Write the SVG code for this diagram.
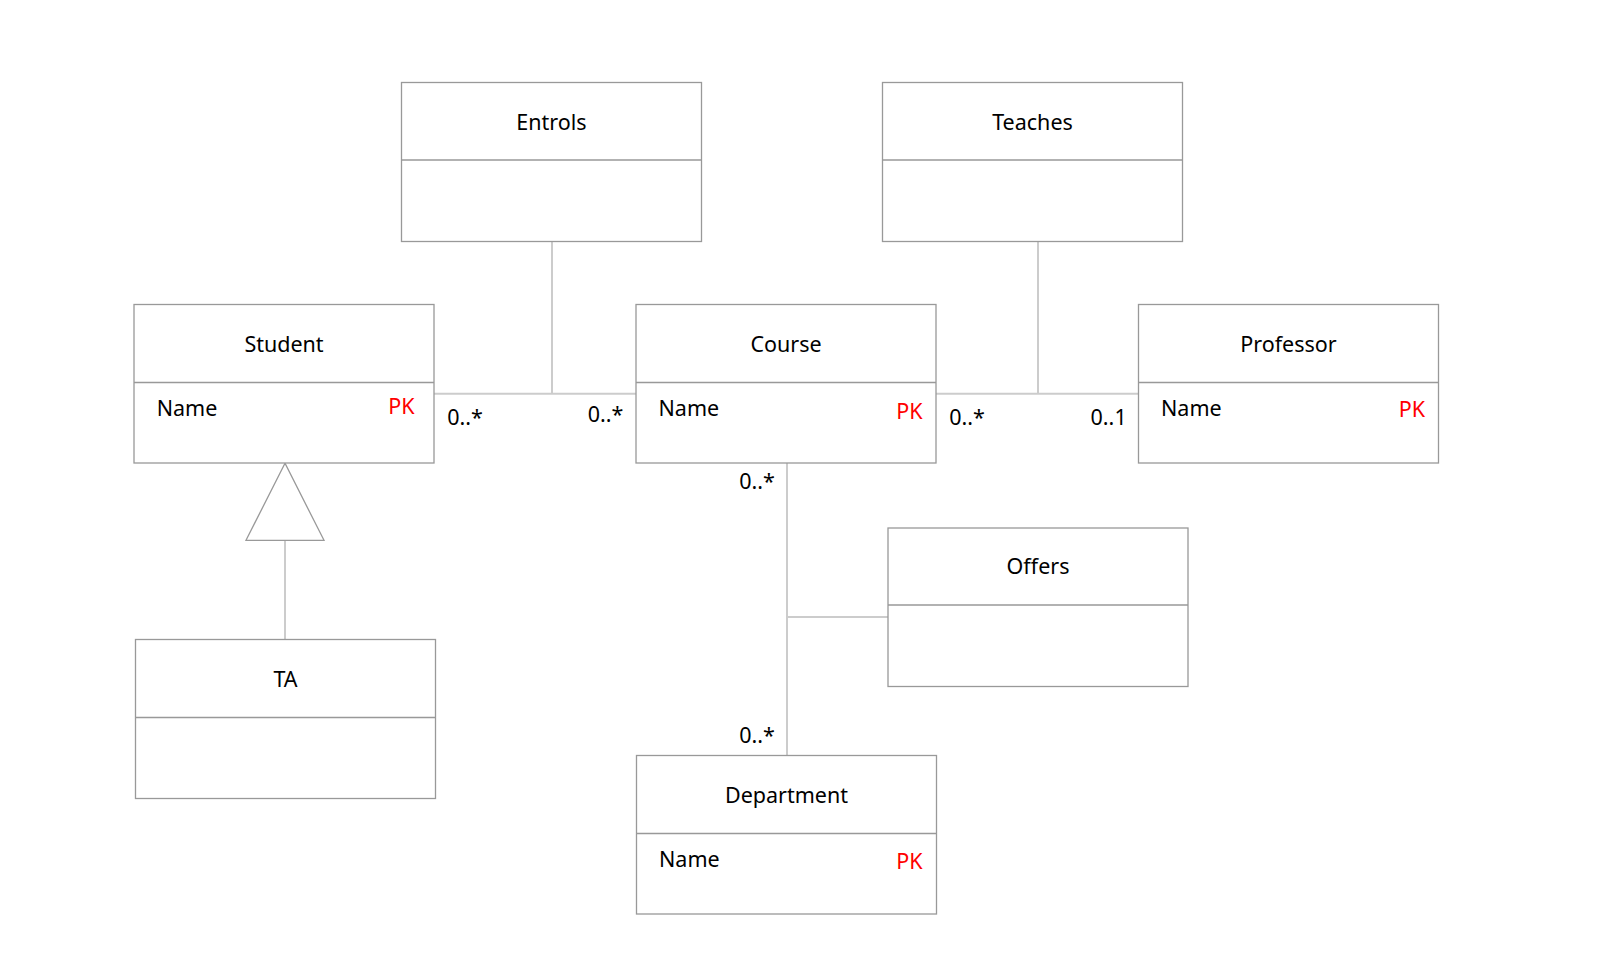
<svg xmlns="http://www.w3.org/2000/svg" width="1603" height="977" viewBox="0 0 1603 977">
<style>
.box{fill:#fff;stroke:#999;stroke-width:1.3}
.div{stroke:#999;stroke-width:1.3}
.con{stroke:#ccc;stroke-width:2;fill:none}
text{font-family:"Noto Sans","DejaVu Sans",sans-serif;font-size:21.5px;fill:#000}
.t{text-anchor:middle}
.pk{fill:#f00;text-anchor:end}
.e{text-anchor:end}
</style>
<rect width="1603" height="977" fill="#fff"/>
<g id="connectors">
<line class="con" x1="434" y1="393.7" x2="636" y2="393.7"/>
<line class="con" x1="552" y1="241.5" x2="552" y2="393.7"/>
<line class="con" x1="936" y1="393.7" x2="1138.5" y2="393.7"/>
<line class="con" x1="1038" y1="241.5" x2="1038" y2="393.7"/>
<line class="con" x1="787" y1="463" x2="787" y2="755.5"/>
<line class="con" x1="787" y1="617" x2="888" y2="617"/>
<line class="con" x1="285" y1="540.3" x2="285" y2="639.5"/>
<polygon points="285,463.3 246,540.3 324,540.3" fill="#fff" stroke="#999" stroke-width="1.3"/>
<text x="447.3" y="425">0..*</text>
<text class="e" x="623.3" y="421.7">0..*</text>
<text x="949.3" y="425">0..*</text>
<text class="e" x="1126.7" y="425">0..1</text>
<text class="e" x="774.8" y="489">0..*</text>
<text class="e" x="774.8" y="743.3">0..*</text>
</g>
<g id="entrols">
<rect class="box" x="401.5" y="82.5" width="300" height="159"/>
<line class="div" x1="401.5" y1="160" x2="701.5" y2="160"/>
<text class="t" x="551.5" y="130">Entrols</text>
</g>
<g id="teaches">
<rect class="box" x="882.5" y="82.5" width="300" height="159"/>
<line class="div" x1="882.5" y1="160" x2="1182.5" y2="160"/>
<text class="t" x="1032.5" y="130">Teaches</text>
</g>
<g id="student">
<rect class="box" x="134" y="304.5" width="300" height="158.5"/>
<line class="div" x1="134" y1="382.5" x2="434" y2="382.5"/>
<text class="t" x="284" y="352.3">Student</text>
<text x="156.7" y="416">Name</text>
<text class="pk" x="414.7" y="414">PK</text>
</g>
<g id="course">
<rect class="box" x="636" y="304.5" width="300" height="158.5"/>
<line class="div" x1="636" y1="382.5" x2="936" y2="382.5"/>
<text class="t" x="786" y="352.3">Course</text>
<text x="658.5" y="416">Name</text>
<text class="pk" x="922.5" y="418.5">PK</text>
</g>
<g id="professor">
<rect class="box" x="1138.5" y="304.5" width="300" height="158.5"/>
<line class="div" x1="1138.5" y1="382.5" x2="1438.5" y2="382.5"/>
<text class="t" x="1288.5" y="352.3">Professor</text>
<text x="1161" y="416">Name</text>
<text class="pk" x="1425" y="417">PK</text>
</g>
<g id="offers">
<rect class="box" x="888" y="528" width="300" height="158.5"/>
<line class="div" x1="888" y1="605" x2="1188" y2="605"/>
<text class="t" x="1038" y="574.3">Offers</text>
</g>
<g id="ta">
<rect class="box" x="135.5" y="639.5" width="300" height="159"/>
<line class="div" x1="135.5" y1="717.5" x2="435.5" y2="717.5"/>
<text class="t" x="285.5" y="686.7">TA</text>
</g>
<g id="department">
<rect class="box" x="636.5" y="755.5" width="300" height="158.5"/>
<line class="div" x1="636.5" y1="833.5" x2="936.5" y2="833.5"/>
<text class="t" x="786.5" y="803.3">Department</text>
<text x="659" y="866.7">Name</text>
<text class="pk" x="922.7" y="869.3">PK</text>
</g>
</svg>
